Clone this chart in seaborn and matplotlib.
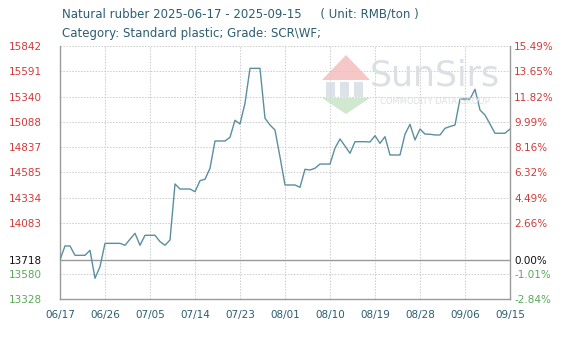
import matplotlib
matplotlib.use("Agg")
import matplotlib.pyplot as plt
from matplotlib.patches import Polygon, Rectangle
import seaborn as sns
import pandas as pd

# ---------------- data ----------------
start_date = "2025-06-17"
prices = [
    13718, 13855, 13855, 13762, 13762, 13762, 13812, 13534, 13649, 13881,
    13881, 13881, 13881, 13862, 13922, 13981, 13862, 13961, 13961, 13961,
    13898, 13862, 13914, 14471, 14421, 14421, 14421, 14394, 14504, 14518,
    14627, 14898, 14898, 14898, 14935, 15104, 15067, 15273, 15620, 15620,
    15620, 15124, 15057, 15007, 14739, 14461, 14461, 14461, 14438, 14617,
    14610, 14627, 14669, 14669, 14669, 14828, 14918, 14848, 14776, 14891,
    14891, 14891, 14888, 14951, 14875, 14941, 14759, 14759, 14759, 14965,
    15064, 14908, 15017, 14967, 14965, 14958, 14958, 15024, 15042, 15057,
    15315, 15315, 15315, 15412, 15206, 15156, 15067, 14975, 14975, 14975,
    15017,
]
x_ticks = ["2025-06-17", "2025-06-26", "2025-07-05", "2025-07-14", "2025-07-23",
           "2025-08-01", "2025-08-10", "2025-08-19", "2025-08-28", "2025-09-06",
           "2025-09-15"]
x_tick_labels = ["06/17", "06/26", "07/05", "07/14", "07/23", "08/01",
                 "08/10", "08/19", "08/28", "09/06", "09/15"]
y_ticks = [13328, 13580, 13718, 14083, 14334, 14585, 14837, 15088, 15340, 15591, 15842]
y_tick_labels = ["13328", "13580", "13718", "14083", "14334", "14585",
                 "14837", "15088", "15340", "15591", "15842"]
pct_labels = ["-2.84%", "-1.01%", "0.00%", "2.66%", "4.49%", "6.32%",
              "8.16%", "9.99%", "11.82%", "13.65%", "15.49%"]
base_price = 13718

title_line1 = "Natural rubber 2025-06-17 - 2025-09-15     ( Unit: RMB/ton )"
title_line2 = "Category: Standard plastic; Grade: SCR\\WF;"

# ---------------- styling ----------------
sns.set_style("white")
plt.rcParams["font.family"] = ["DejaVu Sans"]

RED = "#d23a3a"
GREEN = "#5aa85a"
BLACK = "#111111"
TEAL = "#2c5d70"
LINE = "#5a8fa0"
FRAME = "#9a9a9a"
GRID = "#cccccc"

df = pd.DataFrame({
    "date": pd.date_range(start_date, periods=len(prices), freq="D"),
    "price": prices,
})

W, H = 566, 339
fig = plt.figure(figsize=(W / 100, H / 100), dpi=100)
ax = fig.add_axes([60 / W, 1 - 299 / H, 450 / W, 253 / H])

# watermark (decorative logo)
def fp(x, y):
    return (x / W, 1 - y / H)

fig.patches.append(Polygon([fp(322, 80), fp(370, 80), fp(346, 55)], closed=True,
                           transform=fig.transFigure, facecolor="#f3b9b9",
                           edgecolor="none", alpha=0.8, zorder=0))
for bx in (326, 340, 354):
    fig.patches.append(Rectangle(fp(bx, 97), 9 / W, 15 / H,
                                 transform=fig.transFigure, facecolor="#d5dbe3",
                                 edgecolor="none", alpha=0.8, zorder=0))
fig.patches.append(Polygon([fp(322, 98), fp(370, 98), fp(346, 114)], closed=True,
                           transform=fig.transFigure, facecolor="#c4e3c4",
                           edgecolor="none", alpha=0.8, zorder=0))
fig.text(435 / W, 1 - 76 / H, "SunSirs", fontsize=25, color="#dcdfe3",
         ha="center", va="center", zorder=0)
fig.text(435 / W, 1 - 101 / H, "COMMODITY DATA GROUP", fontsize=6, color="#dcdfe3",
         ha="center", va="center", zorder=0)

sns.lineplot(data=df, x="date", y="price", ax=ax, color=LINE, linewidth=1.0,
             zorder=3)
ax.patch.set_alpha(0)

xt = pd.to_datetime(x_ticks)
ax.set_xlim(xt[0], xt[-1])
ax.set_ylim(y_ticks[0], y_ticks[-1])
ax.set_xticks(xt)
ax.set_xticklabels(x_tick_labels)
ax.set_yticks(y_ticks)
ax.set_yticklabels(y_tick_labels)
ax.set_xlabel("")
ax.set_ylabel("")

# grid
for t in xt[1:-1]:
    ax.axvline(t, color=GRID, linestyle=(0, (1.5, 1.5)), linewidth=0.7, zorder=1)
for v in y_ticks[1:]:
    if v == base_price:
        ax.axhline(v, color=FRAME, linestyle="-", linewidth=1.0, zorder=2)
    else:
        ax.axhline(v, color=GRID, linestyle=(0, (1.5, 1.5)), linewidth=0.7, zorder=1)

for s in ["left", "bottom", "right"]:
    ax.spines[s].set_color(FRAME)
    ax.spines[s].set_linewidth(1.0)
ax.spines["top"].set_visible(False)

ax.tick_params(axis="x", length=0, pad=8, labelsize=7.5, labelcolor=TEAL)
ax.tick_params(axis="y", length=0, pad=13, labelsize=7.5)

def color_for(v):
    if v > base_price:
        return RED
    if v < base_price:
        return GREEN
    return BLACK

for lbl, v in zip(ax.get_yticklabels(), y_ticks):
    lbl.set_color(color_for(v))

ax2 = ax.twinx()
ax2.set_ylim(ax.get_ylim())
ax2.set_yticks(y_ticks)
ax2.set_yticklabels(pct_labels)
ax2.tick_params(axis="y", length=0, pad=3, labelsize=7.5)
ax2.patch.set_alpha(0)
for s in ["left", "bottom", "right", "top"]:
    ax2.spines[s].set_visible(False)
for lbl, v in zip(ax2.get_yticklabels(), y_ticks):
    lbl.set_color(color_for(v))

fig.text(62 / W, 1 - 14 / H, title_line1, fontsize=8.5, color=TEAL,
         ha="left", va="center")
fig.text(62 / W, 1 - 34 / H, title_line2, fontsize=8.5, color=TEAL,
         ha="left", va="center")

fig.savefig("out.png", dpi=100)
